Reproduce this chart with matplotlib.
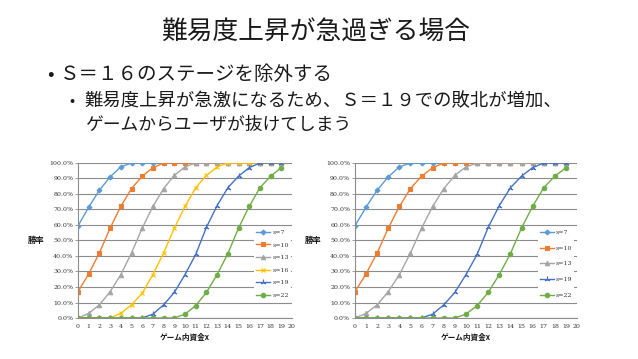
import matplotlib
matplotlib.use("Agg")
import matplotlib.pyplot as plt
from matplotlib.ticker import FuncFormatter

plt.rcParams["font.family"] = ["Noto Sans CJK JP", "DejaVu Sans"]

# data (win rate % vs x)
x = list(range(20))
s7 = [59.5, 71.5, 82.5, 91, 97.5] + [100] * 15
s10 = [17, 28.5, 42, 58, 72, 83.5, 91.5, 97] + [100] * 12
s13 = [0, 3, 8.5, 17, 28, 42, 58, 72, 83.5, 92, 97.5] + [100] * 9
s16 = [0, 0, 0, 0, 3, 8.5, 16, 28, 42, 58, 72, 84, 92, 97.5] + [100] * 6
s19 = [0] * 7 + [2.5, 8.5, 16.5, 28, 41, 58.5, 72.5, 84, 91.5, 97, 100, 100, 100]
s22 = [0] * 10 + [2.5, 8, 16.5, 28, 41.5, 58, 72, 84, 91.5, 97]

labels = ["s=7", "s=10", "s=13", "s=16", "s=19", "s=22"]
series = [s7, s10, s13, s16, s19, s22]
colors = ["#5B9BD5", "#ED7D31", "#A5A5A5", "#FFC000", "#4472C4", "#70AD47"]
markers = ["D", "s", "^", "x", (3, 2, 0), "o"]
msizes = [2.5, 3.2, 3.2, 3.5, 4, 3.2]

left_keep = [0, 1, 2, 3, 4, 5]
right_keep = [0, 1, 2, 4, 5]

TXT = "#1a1a1a"
GRID = "#8c8c8c"
SERIF = "DejaVu Serif"


def draw(ax, keep, spacing):
    for i in keep:
        ax.plot(x, series[i], color=colors[i], marker=markers[i], markersize=msizes[i],
                linewidth=1.0, markeredgewidth=0.8, label=labels[i])
    ax.set_xlim(0, 20)
    ax.set_ylim(0, 100)
    ax.set_xticks(range(21))
    ax.set_yticks(range(0, 101, 10))
    ax.yaxis.set_major_formatter(FuncFormatter(lambda v, p: f"{v:.1f}%"))
    ax.grid(axis="y", color=GRID, linewidth=0.8)
    ax.set_axisbelow(True)
    for side in ["top", "right"]:
        ax.spines[side].set_visible(False)
    for side in ["left", "bottom"]:
        ax.spines[side].set_color(GRID)
        ax.spines[side].set_linewidth(0.8)
    ax.tick_params(axis="y", length=2, width=0.6, color=GRID, pad=1.5)
    ax.tick_params(axis="x", length=0, pad=4)
    for t in ax.get_xticklabels() + ax.get_yticklabels():
        t.set_fontfamily(SERIF)
        t.set_fontsize(4.5)
        t.set_color("#333333")
    ax.set_xlabel("ゲーム内資金x", fontsize=5.5, fontweight="bold", color=TXT, labelpad=3)
    ax.set_ylabel("勝率", fontsize=6, fontweight="bold", color=TXT, rotation=0,
                  labelpad=9, va="center")
    leg = ax.legend(loc="center left", bbox_to_anchor=(0.81, 0.35), frameon=True,
                    framealpha=1, facecolor="white", edgecolor="none",
                    prop={"family": SERIF, "size": 4.5}, handlelength=2.2,
                    labelspacing=spacing, borderpad=0.3, handletextpad=0.4)
    for t in leg.get_texts():
        t.set_color("#333333")


fig = plt.figure(figsize=(6.38, 3.59), dpi=100, facecolor="white")

fig.text(0.495, 0.909, "難易度上昇が急過ぎる場合", ha="center", va="center",
         fontsize=18.5, color=TXT)
fig.text(0.074, 0.792, "•", ha="left", va="center", fontsize=14, color=TXT)
fig.text(0.094, 0.792, "Ｓ＝１６のステージを除外する", ha="left", va="center",
         fontsize=14, color=TXT)
fig.text(0.109, 0.717, "•", ha="left", va="center", fontsize=11, color=TXT)
fig.text(0.133, 0.717, "難易度上昇が急激になるため、Ｓ＝１９での敗北が増加、", ha="left",
         va="center", fontsize=13.2, color=TXT)
fig.text(0.133, 0.653, "ゲームからユーザが抜けてしまう", ha="left", va="center",
         fontsize=12.8, color=TXT)

ax1 = fig.add_axes([0.1223, 0.1142, 0.3354, 0.4318])
draw(ax1, left_keep, 1.15)

ax2 = fig.add_axes([0.5564, 0.1142, 0.348, 0.4318])
draw(ax2, right_keep, 1.65)

fig.savefig("out.png", dpi=100, facecolor="white")
